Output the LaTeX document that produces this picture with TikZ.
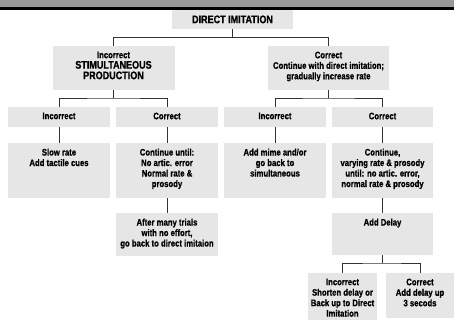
\documentclass[tikz,border=0pt]{standalone}
\usepackage{fontspec}
\setmainfont{Liberation Sans}[FakeStretch=0.82, BoldFeatures={FakeBold=0.8}]
\definecolor{boxgray}{HTML}{E6E6E6}
\definecolor{bannergray}{HTML}{999999}
\definecolor{linegray}{HTML}{333333}
\newcommand{\bigtxt}{\fontsize{11}{11.6}\selectfont}
\newcommand{\dbox}[6]{%
  \node[box, minimum width=#4pt, minimum height=#5pt] (#1) at (#2,#3) {};
  \node[txt] (#1t) at ([yshift=-5.5pt]#1.north) {#6};}
\begin{document}
\begin{tikzpicture}[x=1pt,y=-1pt,
  box/.style={fill=boxgray, draw=none, inner sep=0pt, outer sep=0pt, rectangle},
  txt/.style={anchor=north, inner sep=0pt, align=center, font=\bfseries\fontsize{9.4}{10.5}\selectfont},
  big/.style={font=\bfseries\bigtxt},
  conn/.style={draw=linegray, line width=0.9pt}]
\useasboundingbox (0,0) rectangle (454,320);
% banner
\fill[bannergray] (0,0) rectangle (454,7.3);
\fill[black] (0,7.3) rectangle (454,10.4);
% boxes
\node[box, minimum width=121pt, minimum height=19pt] (di) at (232.5,19.9) {};
\node[txt, big, anchor=center] (dit) at ([yshift=0.5pt]di.center) {DIRECT IMITATION};
\dbox{L1}{113.5}{68}{122}{44}{Incorrect\\\bigtxt STIMULTANEOUS\\\bigtxt PRODUCTION}
\dbox{R1}{328.5}{68}{121}{44}{Correct\\Continue with direct imitation;\\gradually increase rate}
\dbox{A1}{59}{117}{102}{20}{Incorrect}
\dbox{A2}{167}{117}{102}{20}{Correct}
\dbox{A3}{275}{117}{102}{20}{Incorrect}
\dbox{A4}{382.5}{117}{101}{20}{Correct}
\dbox{B1}{59}{170.5}{102}{55}{Slow rate\\Add tactile cues}
\dbox{B2}{167}{170.5}{102}{55}{Continue until:\\No artic. error\\Normal rate \&\\prosody}
\dbox{B3}{275}{170.5}{102}{55}{Add mime and/or\\go back to\\simultaneous}
\dbox{B4}{382.5}{170.5}{101}{55}{Continue,\\varying rate \& prosody\\until: no artic. error,\\normal rate \& prosody}
\dbox{C2}{167}{234.5}{102}{43}{After many trials\\with no effort,\\go back to direct imitaion}
\dbox{C4}{382.5}{234}{101}{42}{Add Delay}
\dbox{D1}{342.5}{296.5}{69}{47}{Incorrect\\Shorten delay or\\Back up to Direct\\Imitation}
\dbox{D2}{420}{295.5}{68}{45}{Correct\\Add delay up\\3 secods}
% connectors
\draw[conn] (di.south) -- ++(0,8) coordinate (j0);
\draw[conn] (L1.north) |- (j0) -| (R1.north);
\draw[conn] (L1.south) -- ++(0,8) coordinate (j1);
\draw[conn] (A1.north) |- (j1) -| (A2.north);
\draw[conn] (R1.south) -- ++(0,8) coordinate (j2);
\draw[conn] (A3.north) |- (j2) -| (A4.north);
\draw[conn] (A1.south) -- (B1.north);
\draw[conn] (A2.south) -- (B2.north);
\draw[conn] (A3.south) -- (B3.north);
\draw[conn] (A4.south) -- (B4.north);
\draw[conn] (B2.south) -- (C2.north);
\draw[conn] (B4.south) -- (C4.north);
\draw[conn] (C4.south) -- ++(0,8) coordinate (j3);
\draw[conn] (D1.north) |- (j3) -| (D2.north);
\end{tikzpicture}
\end{document}
